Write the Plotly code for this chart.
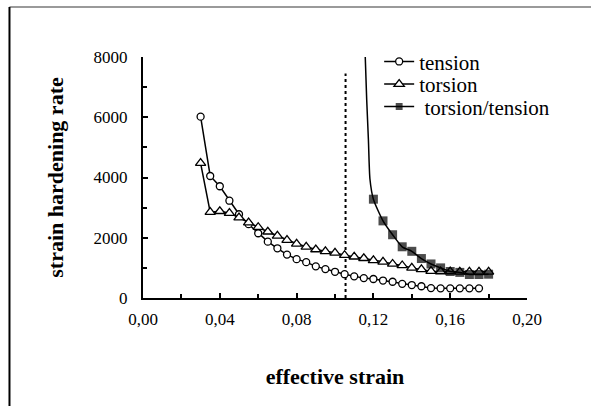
import plotly.graph_objects as go

# ---- data ----
strain_tension = [0.03, 0.035, 0.04, 0.045, 0.05, 0.055, 0.06, 0.065, 0.07, 0.075,
                  0.08, 0.085, 0.09, 0.095, 0.10, 0.105, 0.11, 0.115, 0.12, 0.125,
                  0.13, 0.135, 0.14, 0.145, 0.15, 0.155, 0.16, 0.165, 0.17, 0.175]
rate_tension = [6020, 4050, 3710, 3230, 2780, 2450, 2150, 1870, 1650, 1440,
                1290, 1190, 1050, 960, 870, 790, 720, 660, 630, 580,
                540, 470, 430, 390, 330, 320, 320, 320, 320, 320]

strain_torsion = [0.03, 0.035, 0.04, 0.045, 0.05, 0.055, 0.06, 0.065, 0.07, 0.075,
                  0.08, 0.085, 0.09, 0.095, 0.10, 0.105, 0.11, 0.115, 0.12, 0.125,
                  0.13, 0.135, 0.14, 0.145, 0.15, 0.155, 0.16, 0.165, 0.17, 0.175, 0.18]
rate_torsion = [4480, 2850, 2880, 2820, 2670, 2500, 2350, 2200, 2060, 1920,
                1800, 1700, 1610, 1550, 1500, 1420, 1370, 1320, 1250, 1200,
                1130, 1080, 1000, 950, 890, 880, 880, 870, 870, 870, 870]

# curve part (no markers) followed by marked points
strain_tt = [0.1156, 0.1165, 0.1174, 0.1182, 0.12, 0.125, 0.13, 0.135, 0.14, 0.145,
             0.15, 0.155, 0.16, 0.165, 0.17, 0.175, 0.18]
rate_tt = [8300, 6600, 5250, 3950, 3280, 2560, 2100, 1700, 1550, 1310,
           1130, 1000, 880, 850, 780, 780, 790]
tt_marked = [False, False, False, False] + [True] * 13

divider_strain = [0.1055, 0.1055]
divider_rate = [0, 7450]

x_tickvals = [0.00, 0.04, 0.08, 0.12, 0.16, 0.20]
y_tickvals = [0, 2000, 4000, 6000, 8000]

SERIF = "Liberation Serif"

fig = go.Figure()

fig.add_trace(go.Scatter(
    x=divider_strain, y=divider_rate, mode="lines", showlegend=False,
    line=dict(color="black", width=2, dash="dot"), hoverinfo="skip"))

fig.add_trace(go.Scatter(
    x=strain_tension, y=rate_tension, mode="lines+markers", name="tension",
    legend="legend",
    line=dict(color="black", width=1.5),
    marker=dict(symbol="circle", size=7, color="white",
                line=dict(color="black", width=1.3))))

fig.add_trace(go.Scatter(
    x=strain_torsion, y=rate_torsion, mode="lines+markers", name="torsion",
    legend="legend2",
    line=dict(color="black", width=1.5),
    marker=dict(symbol="triangle-up", size=9, color="white",
                line=dict(color="black", width=1.3))))

fig.add_trace(go.Scatter(
    x=strain_tt, y=rate_tt, mode="lines+markers", name=" torsion/tension",
    legend="legend3",
    line=dict(color="black", width=1.5, shape="spline", smoothing=0.6),
    marker=dict(symbol="square", size=[9 if m else 0 for m in tt_marked],
                color="black", line=dict(width=0))))


def leg(ypos):
    return dict(x=0.615, y=ypos, xanchor="left", yanchor="middle",
                bgcolor="rgba(0,0,0,0)", borderwidth=0,
                font=dict(size=21, family=SERIF, color="black"))


fig.update_layout(
    width=591, height=406,
    margin=dict(l=143, r=64, t=57, b=108),
    paper_bgcolor="white", plot_bgcolor="white",
    separators=",.",
    font=dict(family=SERIF, color="black", size=17),
    showlegend=True,
    legend=leg(0.98),
    legend2=leg(0.886),
    legend3=leg(0.793),
    shapes=[
        dict(type="line", xref="paper", yref="paper",
             x0=-0.3477, x1=1.17, y0=1.2075, y1=1.2075,
             line=dict(color="#9a9a9a", width=2)),
        dict(type="line", xref="paper", yref="paper",
             x0=-0.3477, x1=-0.3477, y0=1.2075, y1=-0.46,
             line=dict(color="black", width=2)),
    ],
)

fig.update_xaxes(
    range=[0, 0.2], tickvals=x_tickvals, tickformat=".2f",
    tickfont=dict(family=SERIF, size=17, color="black"),
    showgrid=False, zeroline=False, showline=True, linecolor="black", linewidth=2,
    ticks="inside", ticklen=5, tickwidth=1.5, tickcolor="black",
    ticklabelstandoff=5,
    minor=dict(dtick=0.02, tick0=0, ticks="inside", ticklen=4, tickcolor="black", tickwidth=1.5),
    title=dict(text="<b>effective strain</b>", font=dict(size=22, family=SERIF, color="black"),
               standoff=40),
)
fig.update_yaxes(
    range=[0, 8000], tickvals=y_tickvals,
    tickfont=dict(family=SERIF, size=17, color="black"),
    showgrid=False, zeroline=False, showline=True, linecolor="black", linewidth=2,
    ticks="inside", ticklen=5, tickwidth=1.5, tickcolor="black",
    ticklabelstandoff=10,
    minor=dict(dtick=1000, tick0=0, ticks="inside", ticklen=4, tickcolor="black", tickwidth=1.5),
    title=dict(text="<b>strain hardening rate</b>", font=dict(size=22, family=SERIF, color="black"),
               standoff=24),
)

fig.write_html("out.html", config={"displayModeBar": False},
               post_script="document.body.style.margin='0px';")
